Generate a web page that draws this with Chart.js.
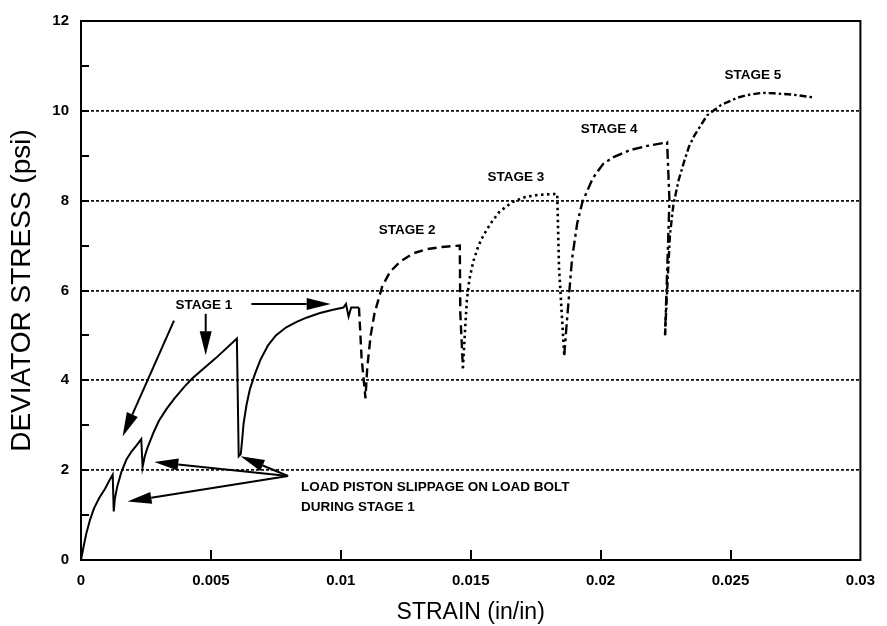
<!DOCTYPE html>
<html>
<head>
<meta charset="utf-8">
<script src="https://cdn.jsdelivr.net/npm/chart.js@4.4.1/dist/chart.umd.min.js"></script>
<style>
html, body { margin: 0; padding: 0; background: #fff; }
</style>
</head>
<body>
<canvas id="myChart" width="887" height="626"></canvas>
<script>
var ctx = document.getElementById('myChart');

// strain (in/in) and deviator stress (psi) for each loading stage
var stage1X = [0, 0.0001, 0.0002, 0.00035, 0.0005, 0.0007, 0.00092, 0.00112, 0.00122, 0.00126, 0.0013, 0.0014, 0.00155, 0.00175, 0.00195, 0.00214, 0.00232, 0.00237, 0.00245, 0.00256, 0.0028, 0.003, 0.0033, 0.0036, 0.004, 0.0043, 0.0052, 0.006, 0.00607, 0.00615, 0.0062, 0.00626, 0.00637, 0.0065, 0.0067, 0.0069, 0.0072, 0.0075, 0.0079, 0.0083, 0.0087, 0.0092, 0.0097, 0.0101, 0.0102, 0.0103, 0.0104, 0.0107];
var stage1Y = [0, 0.3, 0.58, 0.9, 1.15, 1.38, 1.58, 1.8, 1.9, 1.08, 1.35, 1.65, 1.95, 2.24, 2.42, 2.55, 2.69, 2.07, 2.3, 2.5, 2.85, 3.1, 3.37, 3.6, 3.87, 4.05, 4.5, 4.93, 2.31, 2.36, 2.65, 3.05, 3.45, 3.8, 4.15, 4.45, 4.78, 5.0, 5.18, 5.3, 5.4, 5.5, 5.57, 5.62, 5.7, 5.42, 5.62, 5.62];

var stage2X = [0.0107, 0.0108, 0.01095, 0.01102, 0.01115, 0.0113, 0.0116, 0.0119, 0.0123, 0.0128, 0.0133, 0.0139, 0.01458, 0.0146, 0.0147];
var stage2Y = [5.62, 4.5, 3.6, 4.3, 5.0, 5.5, 6.1, 6.42, 6.65, 6.83, 6.92, 6.97, 7.0, 5.5, 4.27];

var stage3X = [0.0147, 0.01478, 0.01485, 0.01495, 0.0151, 0.0153, 0.0155, 0.0158, 0.0161, 0.0166, 0.0171, 0.0176, 0.01833, 0.0184, 0.0186];
var stage3Y = [4.27, 5.1, 5.77, 6.25, 6.65, 7.0, 7.24, 7.52, 7.75, 7.97, 8.08, 8.13, 8.15, 6.5, 4.56];

var stage4X = [0.0186, 0.0187, 0.0188, 0.0189, 0.0191, 0.0193, 0.0197, 0.0201, 0.0205, 0.0211, 0.0218, 0.02256, 0.02265, 0.02248];
var stage4Y = [4.56, 5.3, 6.0, 6.7, 7.5, 7.97, 8.5, 8.82, 8.97, 9.12, 9.22, 9.3, 8.0, 5.0];

var stage5X = [0.02248, 0.02256, 0.02267, 0.0228, 0.023, 0.02323, 0.0234, 0.02361, 0.0241, 0.02464, 0.02525, 0.02563, 0.0262, 0.02666, 0.0274, 0.02818];
var stage5Y = [5.0, 6.0, 7.24, 7.9, 8.45, 8.9, 9.2, 9.45, 9.9, 10.13, 10.29, 10.35, 10.4, 10.39, 10.36, 10.3];

// annotations (data units)
var stageNames = ['STAGE 1', 'STAGE 2', 'STAGE 3', 'STAGE 4', 'STAGE 5'];
var stageLabelX = [0.00473, 0.01255, 0.01674, 0.02033, 0.02586];
var stageLabelY = [5.66, 7.33, 8.52, 9.58, 10.79];

var noteLines = ['LOAD PISTON SLIPPAGE ON LOAD BOLT', 'DURING STAGE 1'];
var noteX = 0.00847;
var noteY = [1.61, 1.17];

var arrowFromX = [0.00656, 0.0048, 0.00358, 0.00797, 0.00797, 0.00797];
var arrowFromY = [5.7, 5.48, 5.33, 1.87, 1.87, 1.87];
var arrowToX = [0.00961, 0.0048, 0.0016, 0.00282, 0.00179, 0.00614];
var arrowToY = [5.7, 4.56, 2.75, 2.18, 1.3, 2.31];

function pts(xs, ys) {
  return xs.map(function (x, i) { return { x: x, y: ys[i] }; });
}

function drawArrow(c, x1, y1, x2, y2) {
  var ang = Math.atan2(y2 - y1, x2 - x1);
  var len = 24, half = 6;
  var bx = x2 - len * Math.cos(ang), by = y2 - len * Math.sin(ang);
  c.beginPath();
  c.moveTo(x1, y1);
  c.lineTo(bx, by);
  c.stroke();
  c.beginPath();
  c.moveTo(x2, y2);
  c.lineTo(bx + half * Math.sin(ang), by - half * Math.cos(ang));
  c.lineTo(bx - half * Math.sin(ang), by + half * Math.cos(ang));
  c.closePath();
  c.fill();
}

var paperPlugin = {
  id: 'paper',
  afterDraw: function (chart) {
    var c = chart.ctx, a = chart.chartArea, xs = chart.scales.x, ys = chart.scales.y;
    c.save();
    c.strokeStyle = '#000';
    c.fillStyle = '#000';
    c.lineWidth = 2;
    c.setLineDash([]);
    c.strokeRect(a.left, a.top, a.right - a.left, a.bottom - a.top);

    // inner tick marks
    for (var v = 0.005; v < 0.0299; v += 0.005) {
      var px = Math.round(xs.getPixelForValue(v));
      c.beginPath(); c.moveTo(px, a.bottom); c.lineTo(px, a.bottom - 10); c.stroke();
    }
    for (var k = 1; k < 12; k++) {
      var py = Math.round(ys.getPixelForValue(k));
      c.beginPath(); c.moveTo(a.left, py); c.lineTo(a.left + 8, py); c.stroke();
    }

    c.font = 'bold 13.5px "Liberation Sans", Arial, sans-serif';
    c.textAlign = 'center';
    c.textBaseline = 'middle';
    stageNames.forEach(function (s, i) {
      c.fillText(s, xs.getPixelForValue(stageLabelX[i]), ys.getPixelForValue(stageLabelY[i]));
    });

    c.textAlign = 'left';
    noteLines.forEach(function (s, i) {
      c.fillText(s, xs.getPixelForValue(noteX), ys.getPixelForValue(noteY[i]));
    });

    c.lineWidth = 2;
    for (var j = 0; j < arrowFromX.length; j++) {
      drawArrow(c,
        xs.getPixelForValue(arrowFromX[j]), ys.getPixelForValue(arrowFromY[j]),
        xs.getPixelForValue(arrowToX[j]), ys.getPixelForValue(arrowToY[j]));
    }
    c.restore();
  }
};

var lineBase = { showLine: true, pointRadius: 0, borderColor: '#000', backgroundColor: '#000', tension: 0, fill: false };

var myChart = new Chart(ctx, {
  type: 'scatter',
  data: {
    datasets: [
      Object.assign({ label: 'Stage 1', data: pts(stage1X, stage1Y), borderWidth: 2 }, lineBase),
      Object.assign({ label: 'Stage 2', data: pts(stage2X, stage2Y), borderWidth: 2.4, borderDash: [9, 5] }, lineBase),
      Object.assign({ label: 'Stage 3', data: pts(stage3X, stage3Y), borderWidth: 2.6, borderDash: [2.5, 3.5] }, lineBase),
      Object.assign({ label: 'Stage 4', data: pts(stage4X, stage4Y), borderWidth: 2.4, borderDash: [10, 4, 3, 4] }, lineBase),
      Object.assign({ label: 'Stage 5', data: pts(stage5X, stage5Y), borderWidth: 2.4, borderDash: [7, 3, 2.5, 3] }, lineBase)
    ]
  },
  options: {
    responsive: false,
    animation: false,
    layout: { padding: { top: 18, right: 17, left: 0, bottom: 0 } },
    plugins: { legend: { display: false }, tooltip: { enabled: false } },
    scales: {
      x: {
        type: 'linear', min: 0, max: 0.03,
        afterFit: function (s) { s.height = 66; },
        grid: { display: false, drawTicks: false },
        border: { display: false },
        ticks: {
          stepSize: 0.005, padding: 12, color: '#000',
          font: { family: '"Liberation Sans", Arial, sans-serif', size: 15, weight: 'bold' },
          callback: function (v) { return String(+v.toFixed(3)); }
        },
        title: {
          display: true, text: 'STRAIN (in/in)', color: '#000', padding: { top: 0, bottom: 0 },
          font: { family: '"Liberation Sans", Arial, sans-serif', size: 23 }
        }
      },
      y: {
        type: 'linear', min: 0, max: 12,
        afterFit: function (s) { s.width = 81; },
        grid: {
          drawTicks: false, lineWidth: 1.8,
          color: function (c) { return (c.tick && (c.tick.value === 0 || c.tick.value === 12)) ? 'rgba(0,0,0,0)' : '#111'; }
        },
        border: { display: false, dash: [3, 2] },
        ticks: {
          stepSize: 2, padding: 12, color: '#000',
          font: { family: '"Liberation Sans", Arial, sans-serif', size: 15, weight: 'bold' }
        },
        title: {
          display: true, text: 'DEVIATOR STRESS (psi)', color: '#000', padding: { top: 5, bottom: 0 },
          font: { family: '"Liberation Sans", Arial, sans-serif', size: 28 }
        }
      }
    }
  },
  plugins: [paperPlugin]
});
</script>
</body>
</html>
